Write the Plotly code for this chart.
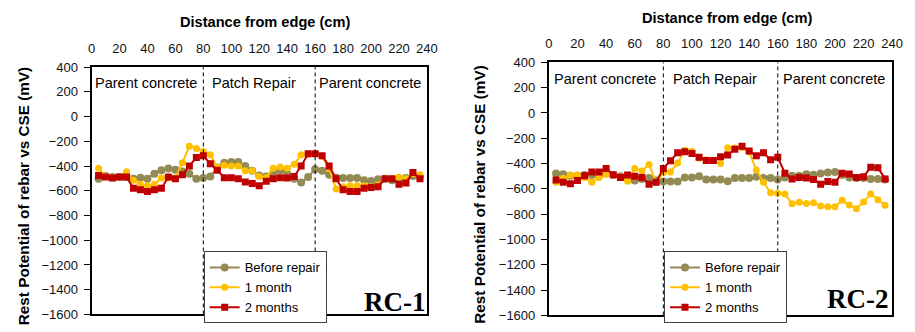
import plotly.graph_objects as go

# Distance along the slab (cm) where the half-cell readings were taken
distance_cm = [5, 10, 15, 20, 25, 30, 35, 40, 45, 50, 55, 60, 65, 70, 75, 80,
               85, 90, 95, 100, 105, 110, 115, 120, 125, 130, 135, 140, 145, 150,
               155, 160, 165, 170, 175, 180, 185, 190, 195, 200, 205, 210, 215,
               220, 225, 230, 235]

# RC-1 rest potentials (mV vs CSE)
rc1_before = [-502, -481, -489, -489, -489, -502, -494, -502, -463, -433, -420, -430,
              -443, -463, -502, -497, -484, -412, -373, -368, -368, -399, -438, -476,
              -484, -456, -433, -463, -502, -533, -489, -425, -438, -471, -494, -497,
              -497, -497, -515, -520, -507, -502, -515, -502, -497, -481, -489]
rc1_1month = [-417, -481, -497, -489, -446, -515, -548, -559, -548, -497, -497, -497,
              -373, -239, -257, -283, -309, -412, -394, -399, -399, -438, -438, -484,
              -494, -417, -407, -417, -386, -309, -305, -301, -320, -420, -585, -567,
              -559, -559, -559, -567, -554, -502, -502, -489, -502, -463, -471]
rc1_2months = [-476, -489, -497, -489, -489, -579, -592, -605, -592, -579, -489, -502,
               -471, -399, -330, -317, -381, -433, -494, -494, -502, -528, -541, -559,
               -523, -502, -494, -497, -484, -399, -301, -301, -317, -399, -502, -592,
               -605, -605, -579, -574, -567, -502, -502, -548, -536, -451, -502]

# RC-2 rest potentials (mV vs CSE)
rc2_before = [-479, -484, -496, -496, -491, -491, -496, -479, -491, -501, -514, -534,
              -521, -514, -534, -542, -542, -542, -509, -509, -501, -526, -526, -526,
              -539, -514, -514, -514, -504, -514, -514, -526, -509, -496, -496, -484,
              -489, -479, -471, -466, -491, -509, -514, -514, -521, -521, -526]
rc2_1month = [-547, -516, -491, -491, -509, -547, -509, -484, -491, -509, -539, -438,
              -458, -408, -547, -471, -466, -395, -295, -302, -358, -370, -375, -400,
              -275, -277, -275, -307, -451, -547, -630, -635, -640, -718, -705, -715,
              -710, -736, -741, -741, -690, -728, -756, -703, -640, -685, -730]
rc2_2months = [-529, -547, -559, -534, -496, -466, -466, -438, -489, -509, -491, -501,
               -509, -564, -547, -438, -378, -315, -307, -320, -350, -375, -375, -345,
               -333, -287, -262, -300, -338, -315, -370, -350, -476, -521, -509, -514,
               -526, -564, -542, -547, -476, -483, -509, -504, -428, -433, -521]

series_names = ["Before repair", "1 month", "2 months"]
x_ticks = [0, 20, 40, 60, 80, 100, 120, 140, 160, 180, 200, 220, 240]
zone_labels = ["Parent concrete", "Patch Repair", "Parent concrete"]
zone_centres = [39, 116, 199]
zone_bounds = [80, 160]
panel_names = ["RC-1", "RC-2"]

W, H = 915, 332
SANS = "Liberation Sans, Arial, sans-serif"
SERIF = "Liberation Serif, Times New Roman, serif"
colors = ["#948A54", "#FFC000", "#C00000"]
symbols = ["circle", "circle", "square"]
msizes = [8, 7, 7]

# panel geometry in pixels: (left, right, top, bottom)
panels = [(89, 430, 63, 322), (554, 903, 58, 323)]
panel_data = [[rc1_before, rc1_1month, rc1_2months],
              [rc2_before, rc2_1month, rc2_2months]]
legend_boxes = [(203, 256), (671, 256)]
xtitle_pos = [(265, 16), (735, 11)]
ytitle_x = [20, 484]
panel_label_pos = [(398, 309), (868, 306)]

fig = go.Figure()
layout = dict(width=W, height=H, margin=dict(l=0, r=0, t=0, b=0),
              paper_bgcolor="white", plot_bgcolor="white",
              font=dict(family=SANS, size=13, color="#111111"),
              shapes=[], annotations=[])

for p, (L, R, T, B) in enumerate(panels):
    xa = "x" if p == 0 else "x2"
    ya = "y" if p == 0 else "y2"
    xkey = "xaxis" if p == 0 else "xaxis2"
    ykey = "yaxis" if p == 0 else "yaxis2"
    leg = "legend" if p == 0 else "legend2"
    ydom = [(H - B) / H, (H - T) / H]

    for s in range(3):
        fig.add_trace(go.Scatter(
            x=distance_cm, y=panel_data[p][s], name=series_names[s],
            xaxis=xa, yaxis=ya, legend=leg, mode="lines+markers",
            line=dict(color=colors[s], width=2),
            marker=dict(color=colors[s], symbol=symbols[s], size=msizes[s]),
        ))

    layout[xkey] = dict(domain=[L / W, R / W], range=[0, 240], side="top",
                        tickvals=x_ticks, ticks="", showgrid=False, zeroline=False,
                        showline=True, linecolor="black", linewidth=1.5, mirror=True,
                        anchor=ya, ticklabelstandoff=7,
                        tickfont=dict(size=13, family=SANS, color="#111111"))
    layout[ykey] = dict(domain=ydom, range=[-1600, 400], dtick=200,
                        ticks="outside", ticklen=6, tickwidth=1, tickcolor="black",
                        showgrid=False, zeroline=False, showline=True,
                        linecolor="black", linewidth=2, mirror=True, anchor=xa,
                        ticklabelstandoff=3,
                        tickfont=dict(size=13, family=SANS, color="#111111"))

    # horizontal axis line at 0 mV with crossing tick marks
    zero_pos = ydom[0] + 0.8 * (ydom[1] - ydom[0])
    for k, tdir in enumerate(["outside", "inside"]):
        key = "xaxis%d" % (3 + 2 * p + k)
        layout[key] = dict(overlaying=xa, anchor="free", position=zero_pos,
                           domain=[L / W, R / W], range=[0, 240], side="bottom",
                           tickvals=x_ticks, ticks=tdir, ticklen=4, tickwidth=1,
                           tickcolor="black", showticklabels=False, showgrid=False,
                           zeroline=False, showline=True, linecolor="black",
                           linewidth=1.2)

    # zone boundaries
    for xb in zone_bounds:
        layout["shapes"].append(dict(type="line", xref=xa, yref=ya + " domain",
                                     x0=xb, x1=xb, y0=0, y1=1,
                                     line=dict(color="black", width=1, dash="4px,3px")))
    for txt, xc in zip(zone_labels, zone_centres):
        layout["annotations"].append(dict(text=txt, x=xc, y=272, xref=xa, yref=ya,
                                          xanchor="center", yanchor="middle",
                                          showarrow=False,
                                          font=dict(size=14.5, family=SANS, color="black")))

    # axis titles
    tx, ty = xtitle_pos[p]
    layout["annotations"].append(dict(text="<b>Distance from edge (cm)</b>",
                                      x=tx / W, y=(H - ty) / H,
                                      xref="paper", yref="paper", showarrow=False,
                                      xanchor="center", yanchor="middle",
                                      font=dict(size=14.6, family=SANS, color="black")))
    layout["annotations"].append(dict(text="<b>Rest Potential of rebar vs CSE (mV)</b>",
                                      x=ytitle_x[p] / W, y=(H - (T + B) / 2 - 6) / H,
                                      xref="paper", yref="paper", showarrow=False,
                                      xanchor="center", yanchor="middle",
                                      textangle=-90,
                                      font=dict(size=15.3, family=SANS, color="black")))
    lx, ly = panel_label_pos[p]
    layout["annotations"].append(dict(text="<b>%s</b>" % panel_names[p],
                                      x=lx / W, y=(H - ly) / H, xref="paper",
                                      yref="paper", showarrow=False,
                                      xanchor="center", yanchor="middle",
                                      font=dict(size=27, family=SERIF, color="black")))

    bx, by = legend_boxes[p]
    layout[leg] = dict(x=bx / W, y=(H - by) / H, xanchor="left", yanchor="top",
                       bgcolor="white", bordercolor="#404040", borderwidth=1,
                       font=dict(size=13, family=SANS, color="black"),
                       tracegroupgap=0, itemwidth=30)

fig.update_layout(**layout)
fig.write_html("out.html")
